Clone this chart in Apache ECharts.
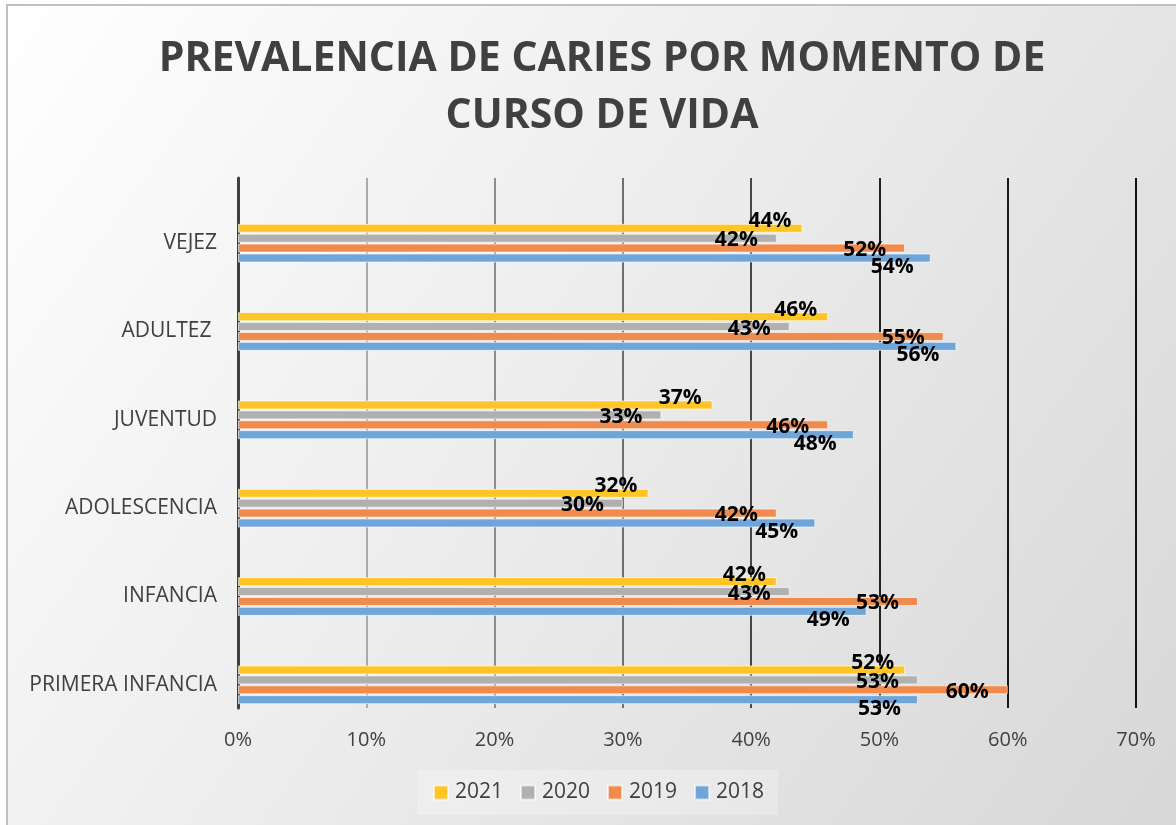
<!DOCTYPE html>
<html>
<head>
<meta charset="utf-8">
<script src="https://cdn.jsdelivr.net/npm/echarts@6/dist/echarts.min.js"></script>
<style>
  html, body { margin: 0; padding: 0; background: #fff; }
  #chart { width: 1176px; height: 825px; }
</style>
</head>
<body>
<div id="chart"></div>
<script>
// categorias (de abajo hacia arriba)
const categories = ["PRIMERA INFANCIA", "INFANCIA", "ADOLESCENCIA", "JUVENTUD", "ADULTEZ ", "VEJEZ"];
const years = ["2021", "2020", "2019", "2018"];
// valores en %
const data2021 = [52, 42, 32, 37, 46, 44];
const data2020 = [53, 43, 30, 33, 43, 42];
const data2019 = [60, 53, 42, 46, 55, 52];
const data2018 = [53, 49, 45, 48, 56, 54];

const colors = ["#ffc526", "#b0b0b0", "#ef8c4d", "#6fa5d9"];
const labelOffsets = [[-6, -7], [-14, 2], [-14, 2], [-12, 9]];
const fontFamily = "'Open Sans', 'Liberation Sans', sans-serif";

const myChart = echarts.init(document.getElementById("chart"));

const seriesData = [data2021, data2020, data2019, data2018];
const series = years.map((y, i) => ({
  name: y,
  type: "bar",
  xAxisIndex: 0,
  yAxisIndex: 0,
  data: seriesData[i],
  barWidth: 9,
  barGap: "10%",
  itemStyle: {
    color: colors[i],
    borderColor: "rgba(255,255,255,0.6)",
    borderWidth: 1
  },
  label: {
    show: true,
    position: "insideRight",
    offset: labelOffsets[i],
    formatter: "{c}%",
    color: "#000",
    fontWeight: "bold",
    fontSize: 21,
    fontFamily: fontFamily
  }
}));

const option = {
  animation: false,
  graphic: [{
    type: "rect",
    z: -10,
    silent: true,
    shape: { x: 7, y: 5, width: 1200, height: 850 },
    style: {
      fill: new echarts.graphic.LinearGradient(0, 0, 1, 1, [
        { offset: 0, color: "#ffffff" },
        { offset: 1, color: "#d6d6d6" }
      ]),
      stroke: "#c0c0c0",
      lineWidth: 2
    }
  }, {
    type: "rect",
    z: -5,
    silent: true,
    shape: { x: 417, y: 770, width: 361, height: 45 },
    style: { fill: "rgba(255,255,255,0.25)" }
  }],
  title: {
    text: "PREVALENCIA DE CARIES POR MOMENTO DE\nCURSO DE VIDA",
    left: 597,
    top: 26,
    textAlign: "center",
    textStyle: {
      fontSize: 41,
      fontWeight: "bold",
      color: "#404040",
      lineHeight: 57,
      fontFamily: fontFamily
    }
  },
  legend: {
    data: years,
    bottom: 17,
    left: 428,
    itemWidth: 14,
    itemHeight: 14,
    itemGap: 17,
    icon: "rect",
    textStyle: { fontSize: 21, color: "#404040", fontFamily: fontFamily, padding: [0, 0, 0, 2] }
  },
  // grid 0: barras; grid 1: líneas de división y eje x
  grid: [
    { left: 238, right: 40, top: 199, bottom: 96 },
    { left: 238, right: 40, top: 178, bottom: 117 }
  ],
  xAxis: [{
    type: "value",
    gridIndex: 0,
    min: 0,
    max: 70,
    show: false
  }, {
    type: "value",
    gridIndex: 1,
    min: 0,
    max: 70,
    interval: 10,
    axisLine: { show: false },
    axisTick: { show: false },
    axisLabel: {
      formatter: "{value}%",
      fontSize: 20,
      color: "#404040",
      margin: 22,
      fontFamily: fontFamily
    },
    splitLine: {
      lineStyle: {
        width: 2,
        color: new echarts.graphic.LinearGradient(238, 0, 1136, 0, [
          { offset: 0, color: "#c8c8c8" },
          { offset: 0.45, color: "#6a6a6a" },
          { offset: 0.7, color: "#222222" },
          { offset: 1, color: "#111111" }
        ], true)
      }
    }
  }],
  yAxis: [{
    type: "category",
    gridIndex: 0,
    data: categories,
    axisLine: { show: false },
    axisTick: { show: false },
    axisLabel: { fontSize: 21, color: "#404040", margin: 21, fontFamily: fontFamily }
  }, {
    type: "category",
    gridIndex: 1,
    data: categories,
    axisLine: { lineStyle: { color: "#404040", width: 3 } },
    axisTick: { show: false },
    axisLabel: { show: false }
  }],
  series: series
};
myChart.setOption(option);
</script>
</body>
</html>
